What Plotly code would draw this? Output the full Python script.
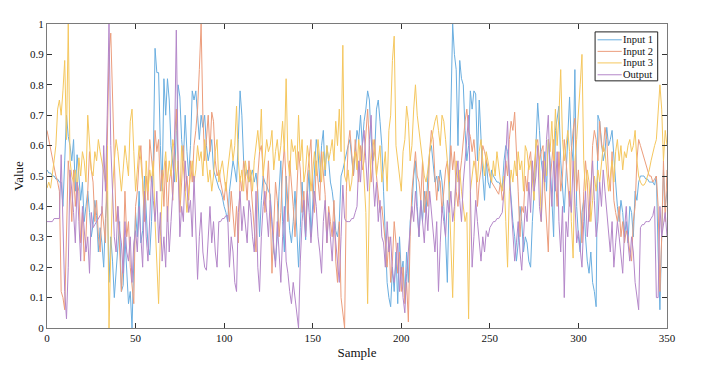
import plotly.graph_objects as go

########## Data (one per sample) ##########
input_1 = [
    0.52, 0.51, 0.51, 0.50, 0.50, 0.49, 0.49, 0.48, 0.48, 0.40,
    0.55, 0.70, 0.63, 0.60, 0.55, 0.62, 0.45, 0.57, 0.50, 0.42,
    0.48, 0.35, 0.40, 0.45, 0.38, 0.30, 0.34, 0.42, 0.37, 0.25,
    0.33, 0.28, 0.20, 0.36, 0.45, 0.15, 0.30, 0.22, 0.10, 0.18,
    0.25, 0.35, 0.12, 0.14, 0.30, 0.20, 0.08, 0.12, 0.00, 0.22,
    0.38, 0.30, 0.45, 0.28, 0.32, 0.50, 0.40, 0.27, 0.24, 0.35,
    0.55, 0.92, 0.84, 0.84, 0.60, 0.45, 0.82, 0.70, 0.82, 0.75,
    0.60, 0.55, 0.48, 0.65, 0.80, 0.76, 0.62, 0.55, 0.70, 0.58,
    0.50, 0.60, 0.78, 0.75, 0.78, 0.70, 0.62, 0.70, 0.66, 0.70,
    0.60, 0.55, 0.58, 0.62, 0.52, 0.50, 0.48, 0.46, 0.45, 0.43,
    0.40, 0.38, 0.35, 0.45, 0.50, 0.55, 0.52, 0.48, 0.62, 0.78,
    0.70, 0.55, 0.50, 0.52, 0.48, 0.50, 0.52, 0.48, 0.51, 0.45,
    0.30, 0.42, 0.50, 0.48, 0.47, 0.45, 0.44, 0.35, 0.25, 0.22,
    0.30, 0.45, 0.55, 0.35, 0.25, 0.50, 0.40, 0.32, 0.28, 0.35,
    0.45, 0.30, 0.20, 0.33, 0.48, 0.38, 0.29, 0.44, 0.52, 0.30,
    0.42, 0.55, 0.62, 0.58, 0.48, 0.60, 0.65, 0.50, 0.60, 0.55,
    0.48, 0.45, 0.40, 0.32, 0.30, 0.35, 0.50, 0.52, 0.55, 0.58,
    0.60, 0.62, 0.55, 0.50, 0.58, 0.65, 0.62, 0.70, 0.60, 0.68,
    0.72, 0.78, 0.75, 0.62, 0.55, 0.58, 0.72, 0.75, 0.68, 0.60,
    0.45, 0.30, 0.15, 0.10, 0.07, 0.20, 0.12, 0.25, 0.08, 0.30,
    0.18, 0.22, 0.10, 0.25, 0.15, 0.35, 0.40, 0.50, 0.55, 0.40,
    0.30, 0.42, 0.35, 0.45, 0.38, 0.50, 0.58, 0.60, 0.55, 0.48,
    0.50, 0.45, 0.52, 0.48, 0.40, 0.30, 0.15, 0.45, 0.70, 1.00,
    0.90, 0.85, 0.60, 0.88, 0.82, 0.80, 0.65, 0.55, 0.60, 0.78,
    0.72, 0.78, 0.77, 0.55, 0.75, 0.60, 0.50, 0.42, 0.55, 0.48,
    0.46, 0.52, 0.50, 0.49, 0.48, 0.48, 0.47, 0.46, 0.55, 0.60,
    0.58, 0.50, 0.42, 0.35, 0.30, 0.22, 0.28, 0.40, 0.35, 0.25,
    0.30, 0.28, 0.22, 0.20, 0.35, 0.45, 0.60, 0.74, 0.65, 0.55,
    0.50, 0.58, 0.45, 0.62, 0.55, 0.40, 0.30, 0.65, 0.70, 0.73,
    0.55, 0.45, 0.38, 0.50, 0.62, 0.76, 0.60, 0.55, 0.85, 0.40,
    0.30, 0.25, 0.38, 0.42, 0.30, 0.22, 0.18, 0.25, 0.15, 0.12,
    0.07, 0.70, 0.68, 0.62, 0.55, 0.58, 0.66, 0.60, 0.62, 0.65,
    0.55, 0.48, 0.40, 0.35, 0.42, 0.38, 0.30, 0.35, 0.28, 0.40,
    0.38, 0.30, 0.45, 0.42, 0.48, 0.50, 0.50, 0.50, 0.49, 0.49,
    0.48, 0.48, 0.48, 0.47, 0.50, 0.25, 0.06, 0.30, 0.52, 0.40,
    0.45,
]

input_2 = [
    0.65, 0.62, 0.58, 0.55, 0.52, 0.50, 0.48, 0.45, 0.12, 0.10,
    0.06, 0.30, 0.55, 0.48, 0.35, 0.52, 0.40, 0.48, 0.45, 0.28,
    0.38, 0.22, 0.30, 0.45, 0.58, 0.52, 0.48, 0.35, 0.42, 0.30,
    0.25, 0.40, 0.33, 0.28, 0.60, 0.90, 0.97, 0.75, 0.50, 0.35,
    0.40, 0.28, 0.12, 0.22, 0.45, 0.30, 0.35, 0.20, 0.15, 0.08,
    0.40, 0.45, 0.55, 0.60, 0.48, 0.35, 0.50, 0.42, 0.62, 0.55,
    0.50, 0.65, 0.58, 0.62, 0.45, 0.52, 0.40, 0.55, 0.35, 0.48,
    0.52, 0.42, 0.62, 0.72, 0.55, 0.38, 0.48, 0.60, 0.45, 0.50,
    0.42, 0.55, 0.48, 0.60, 0.65, 0.72, 0.85, 1.00, 0.70, 0.55,
    0.62, 0.70, 0.58, 0.71, 0.68, 0.55, 0.50, 0.52, 0.48, 0.45,
    0.42, 0.48, 0.40, 0.35, 0.45, 0.38, 0.30, 0.40, 0.28, 0.50,
    0.45, 0.55, 0.50, 0.42, 0.55, 0.48, 0.40, 0.30, 0.25, 0.50,
    0.58, 0.60, 0.52, 0.38, 0.45, 0.55, 0.40, 0.18, 0.35, 0.48,
    0.42, 0.30, 0.38, 0.52, 0.60, 0.45, 0.35, 0.55, 0.48, 0.40,
    0.30, 0.42, 0.58, 0.52, 0.38, 0.45, 0.32, 0.50, 0.55, 0.62,
    0.45, 0.38, 0.55, 0.48, 0.42, 0.58, 0.50, 0.44, 0.28, 0.40,
    0.35, 0.30, 0.42, 0.22, 0.15, 0.35, 0.10, 0.05, 0.00, 0.45,
    0.60, 0.65, 0.58, 0.50, 0.62, 0.55, 0.48, 0.60, 0.52, 0.55,
    0.65, 0.72, 0.60, 0.48, 0.55, 0.62, 0.50, 0.45, 0.38, 0.40,
    0.35, 0.28, 0.20, 0.30, 0.15, 0.22, 0.35, 0.28, 0.18, 0.25,
    0.12, 0.20, 0.08, 0.15, 0.02, 0.30, 0.45, 0.52, 0.58, 0.50,
    0.48, 0.42, 0.55, 0.38, 0.45, 0.40, 0.58, 0.65, 0.62, 0.50,
    0.42, 0.50, 0.48, 0.38, 0.45, 0.52, 0.55, 0.48, 0.60, 0.52,
    0.58, 0.45, 0.40, 0.50, 0.55, 0.62, 0.68, 0.72, 0.65, 0.63,
    0.58, 0.62, 0.55, 0.40, 0.48, 0.52, 0.60, 0.58, 0.55, 0.52,
    0.50, 0.48, 0.47, 0.46, 0.45, 0.44, 0.48, 0.42, 0.45, 0.55,
    0.50, 0.62, 0.68, 0.65, 0.71, 0.60, 0.45, 0.30, 0.40, 0.38,
    0.50, 0.45, 0.55, 0.58, 0.48, 0.52, 0.60, 0.62, 0.55, 0.58,
    0.60, 0.45, 0.35, 0.25, 0.48, 0.55, 0.62, 0.50, 0.40, 0.58,
    0.45, 0.50, 0.62, 0.55, 0.48, 0.40, 0.58, 0.65, 0.69, 0.45,
    0.52, 0.38, 0.28, 0.45, 0.55, 0.48, 0.35, 0.42, 0.60, 0.65,
    0.62, 0.55, 0.68, 0.60, 0.58, 0.66, 0.62, 0.50, 0.45, 0.58,
    0.42, 0.38, 0.35, 0.40, 0.30, 0.35, 0.28, 0.32, 0.30, 0.25,
    0.22, 0.35, 0.40, 0.55, 0.62, 0.60, 0.58, 0.56, 0.54, 0.52,
    0.50, 0.50, 0.48, 0.49, 0.50, 0.40, 0.12, 0.30, 0.55, 0.35,
    0.52,
]

input_3 = [
    0.46, 0.48, 0.46, 0.50, 0.55, 0.60, 0.72, 0.75, 0.70, 0.78,
    0.88, 0.62, 1.00, 0.55, 0.50, 0.48, 0.52, 0.45, 0.56, 0.50,
    0.58, 0.55, 0.48, 0.70, 0.62, 0.52, 0.50, 0.58, 0.55, 0.62,
    0.58, 0.55, 0.52, 0.48, 0.60, 0.00, 0.25, 0.45, 0.55, 0.62,
    0.58, 0.50, 0.45, 0.52, 0.60, 0.55, 0.50, 0.68, 0.72, 0.58,
    0.45, 0.52, 0.60, 0.55, 0.48, 0.38, 0.55, 0.45, 0.52, 0.48,
    0.55, 0.35, 0.20, 0.08, 0.30, 0.45, 0.52, 0.58, 0.48, 0.55,
    0.50, 0.62, 0.58, 0.48, 0.55, 0.42, 0.60, 0.52, 0.45, 0.38,
    0.45, 0.50, 0.55, 0.48, 0.52, 0.60, 0.55, 0.58, 0.50, 0.62,
    0.55, 0.48, 0.52, 0.45, 0.50, 0.58, 0.62, 0.48, 0.52, 0.55,
    0.50, 0.45, 0.52, 0.58, 0.62, 0.55, 0.60, 0.73, 0.55, 0.48,
    0.52, 0.45, 0.55, 0.50, 0.48, 0.52, 0.45, 0.55, 0.60, 0.65,
    0.58, 0.72, 0.50, 0.55, 0.62, 0.58, 0.60, 0.65, 0.52, 0.58,
    0.62, 0.55, 0.60, 0.68, 0.58, 0.82, 0.55, 0.50, 0.62, 0.58,
    0.60, 0.52, 0.70, 0.55, 0.62, 0.48, 0.52, 0.60, 0.55, 0.45,
    0.52, 0.58, 0.50, 0.62, 0.55, 0.48, 0.58, 0.52, 0.60, 0.55,
    0.58, 0.62, 0.55, 0.68, 0.60, 0.72, 0.58, 0.93, 0.50, 0.48,
    0.52, 0.45, 0.48, 0.55, 0.58, 0.52, 0.62, 0.55, 0.60, 0.48,
    0.38, 0.08, 0.45, 0.55, 0.62, 0.58, 0.50, 0.55, 0.60, 0.48,
    0.52, 0.58, 0.45, 0.65, 0.70, 0.88, 0.96, 0.60, 0.55, 0.50,
    0.45, 0.58, 0.62, 0.73, 0.68, 0.55, 0.60, 0.72, 0.80, 0.70,
    0.65, 0.60, 0.55, 0.50, 0.48, 0.52, 0.58, 0.62, 0.65, 0.68,
    0.70, 0.65, 0.60, 0.70, 0.68, 0.62, 0.55, 0.45, 0.30, 0.10,
    0.35, 0.55, 0.48, 0.52, 0.45, 0.40, 0.35, 0.38, 0.03, 0.45,
    0.50, 0.55, 0.52, 0.48, 0.58, 0.62, 0.55, 0.50, 0.58, 0.55,
    0.52, 0.48, 0.55, 0.50, 0.58, 0.52, 0.48, 0.45, 0.50, 0.35,
    0.20, 0.45, 0.52, 0.48, 0.55, 0.50, 0.58, 0.52, 0.55, 0.45,
    0.60, 0.58, 0.52, 0.55, 0.48, 0.42, 0.62, 0.58, 0.55, 0.35,
    0.48, 0.55, 0.50, 0.62, 0.58, 0.68, 0.55, 0.72, 0.60, 0.70,
    0.85, 0.62, 0.55, 0.60, 0.65, 0.58, 0.35, 0.23, 0.55, 0.62,
    0.70, 0.80, 0.90, 0.55, 0.45, 0.52, 0.48, 0.35, 0.42, 0.50,
    0.45, 0.52, 0.48, 0.55, 0.60, 0.58, 0.52, 0.45, 0.50, 0.55,
    0.48, 0.58, 0.62, 0.55, 0.60, 0.52, 0.58, 0.56, 0.60, 0.62,
    0.58, 0.60, 0.65, 0.55, 0.50, 0.48, 0.47, 0.47, 0.48, 0.50,
    0.52, 0.55, 0.58, 0.60, 0.62, 0.70, 0.80, 0.72, 0.55, 0.65,
    0.60,
]

output = [
    0.35, 0.35, 0.35, 0.35, 0.36, 0.36, 0.36, 0.36, 0.57, 0.30,
    0.12, 0.03, 0.20, 0.52, 0.45, 0.38, 0.28, 0.48, 0.35, 0.22,
    0.40, 0.32, 0.25, 0.30, 0.18, 0.38, 0.33, 0.34, 0.35, 0.36,
    0.37, 0.38, 0.60, 0.45, 0.70, 1.00, 0.60, 0.42, 0.30, 0.25,
    0.40, 0.32, 0.28, 0.18, 0.35, 0.25, 0.22, 0.30, 0.15, 0.28,
    0.32, 0.25, 0.40, 0.30, 0.20, 0.45, 0.30, 0.22, 0.38, 0.50,
    0.42, 0.35, 0.45, 0.28, 0.38, 0.22, 0.30, 0.20, 0.40, 0.25,
    0.35, 0.45, 0.60, 0.98, 0.55, 0.30, 0.40, 0.35, 0.55, 0.45,
    0.38, 0.42, 0.30, 0.50, 0.35, 0.16, 0.30, 0.38, 0.25, 0.20,
    0.19, 0.32, 0.40, 0.28, 0.35, 0.25, 0.20, 0.35, 0.35, 0.36,
    0.36, 0.37, 0.37, 0.20, 0.30, 0.25, 0.15, 0.12, 0.38, 0.45,
    0.32, 0.40, 0.35, 0.28, 0.42, 0.38, 0.30, 0.25, 0.45, 0.20,
    0.12, 0.30, 0.40, 0.45, 0.38, 0.30, 0.42, 0.35, 0.28, 0.20,
    0.35, 0.25, 0.15, 0.30, 0.40, 0.22, 0.18, 0.12, 0.08, 0.15,
    0.10, 0.05, 0.00, 0.22, 0.35, 0.42, 0.30, 0.45, 0.38, 0.28,
    0.35, 0.45, 0.40, 0.30, 0.25, 0.18, 0.35, 0.42, 0.28, 0.38,
    0.30, 0.22, 0.35, 0.28, 0.20, 0.15, 0.30, 0.47, 0.36, 0.35,
    0.35, 0.35, 0.36, 0.36, 0.38, 0.40, 0.55, 0.48, 0.60, 0.65,
    0.55, 0.45, 0.62, 0.70, 0.50, 0.40, 0.48, 0.35, 0.42, 0.30,
    0.28, 0.20, 0.35, 0.25, 0.30, 0.18, 0.15, 0.22, 0.28, 0.12,
    0.20, 0.10, 0.05, 0.18, 0.25, 0.32, 0.40, 0.35, 0.45, 0.38,
    0.30, 0.42, 0.35, 0.28, 0.40, 0.32, 0.45, 0.38, 0.30, 0.25,
    0.35, 0.12, 0.28, 0.40, 0.35, 0.30, 0.42, 0.38, 0.45, 0.35,
    0.40, 0.50, 0.55, 0.42, 0.35, 0.48, 0.55, 0.62, 0.70, 0.45,
    0.20, 0.30, 0.42, 0.35, 0.28, 0.22, 0.30, 0.25, 0.32, 0.30,
    0.33, 0.34, 0.35, 0.35, 0.36, 0.36, 0.37, 0.38, 0.45, 0.55,
    0.68, 0.50, 0.40, 0.30, 0.22, 0.28, 0.35, 0.25, 0.19, 0.30,
    0.40, 0.35, 0.48, 0.38, 0.55, 0.45, 0.50, 0.60, 0.40, 0.35,
    0.55, 0.48, 0.62, 0.70, 0.50, 0.40, 0.55, 0.45, 0.58, 0.35,
    0.25, 0.40, 0.10, 0.35, 0.30, 0.45, 0.38, 0.55, 0.42, 0.28,
    0.32, 0.25, 0.20, 0.35, 0.45, 0.30, 0.38, 0.48, 0.55, 0.42,
    0.30, 0.35, 0.48, 0.40, 0.52, 0.45, 0.38, 0.30, 0.25, 0.35,
    0.20, 0.28, 0.35, 0.30, 0.25, 0.18, 0.32, 0.40, 0.28, 0.22,
    0.30, 0.25, 0.15, 0.10, 0.06, 0.33, 0.34, 0.34, 0.35, 0.35,
    0.35, 0.36, 0.37, 0.40, 0.10, 0.10, 0.40, 0.30, 0.35, 0.38,
    0.30,
]

series_names = ['Input 1', 'Input 2', 'Input 3', 'Output']
series_colors = ['#6aaee0', '#ec9d7c', '#f5c75e', '#b487c9']

x_ticks = [0, 50, 100, 150, 200, 250, 300, 350]
y_ticks = [0, 0.1, 0.2, 0.3, 0.4, 0.5, 0.6, 0.7, 0.8, 0.9, 1]
y_tick_labels = ['0', '0.1', '0.2', '0.3', '0.4', '0.5', '0.6', '0.7', '0.8', '0.9', '1']

########## Line chart ##########
def plot_signals(width=702, height=370):
    samples = list(range(len(input_1)))
    serif = 'Liberation Serif, Times New Roman, serif'

    fig = go.Figure()
    for name, ys, color in zip(series_names, [input_1, input_2, input_3, output], series_colors):
        fig.add_trace(go.Scatter(
            x=samples,
            y=ys,
            mode='lines',
            name=name,
            line={'color': color, 'width': 1},
            showlegend=False,
        ))

    # compact MATLAB-style legend box (plotly's own legend rows are too tall)
    box_x0, box_x1, box_y0, box_y1 = 0.884, 0.985, 0.813, 0.974
    row_y = [0.948, 0.910, 0.872, 0.833]
    fig.add_shape(type='rect', xref='paper', yref='paper',
                  x0=box_x0, x1=box_x1, y0=box_y0, y1=box_y1,
                  line={'color': '#222222', 'width': 1}, fillcolor='white', layer='above')
    for name, color, ry in zip(series_names, series_colors, row_y):
        fig.add_shape(type='line', xref='paper', yref='paper',
                      x0=0.888, x1=0.927, y0=ry, y1=ry,
                      line={'color': color, 'width': 1}, layer='above')
        fig.add_annotation(xref='paper', yref='paper', x=0.929, y=ry,
                           text=name, showarrow=False, xanchor='left', yanchor='middle',
                           xshift=-2, font={'family': serif, 'size': 10.5, 'color': '#111111'})

    axis_common = dict(
        showgrid=False,
        zeroline=False,
        showline=True,
        linecolor='#7a7a7a',
        linewidth=1,
        mirror='allticks',
        ticks='inside',
        ticklen=5,
        tickcolor='#333333',
        tickfont={'family': serif, 'size': 11, 'color': '#111111'},
    )

    fig.update_layout(
        width=width,
        height=height,
        paper_bgcolor='white',
        plot_bgcolor='white',
        margin={'l': 37, 'r': 43, 't': 10, 'b': 50},
        font={'family': serif, 'color': '#111111'},
        xaxis=dict(
            axis_common,
            range=[0, 350],
            tickvals=x_ticks,
            title={'text': 'Sample', 'font': {'family': serif, 'size': 13}, 'standoff': 4},
        ),
        yaxis=dict(
            axis_common,
            range=[0, 1],
            tickvals=y_ticks,
            ticktext=y_tick_labels,
            title={'text': 'Value', 'font': {'family': serif, 'size': 13}, 'standoff': 3},
        ),
    )
    return fig

fig = plot_signals()
fig.write_html("out.html")
